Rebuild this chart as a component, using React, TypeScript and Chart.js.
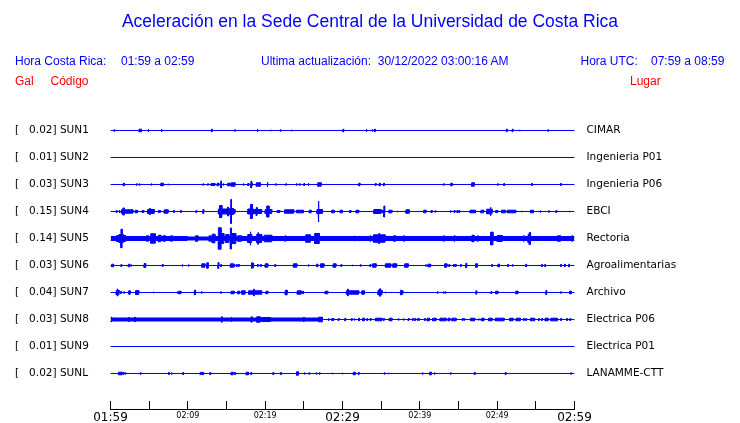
import React, { useEffect, useRef } from 'react';
import { Chart, registerables } from 'chart.js';

Chart.register(...registerables);

// ---------- data ----------
const STATION_CODES = ['SUN1', 'SUN2', 'SUN3', 'SUN4', 'SUN5', 'SUN6', 'SUN7', 'SUN8', 'SUN9', 'SUNL'];
const PEAK_GAL = [0.02, 0.01, 0.03, 0.15, 0.14, 0.03, 0.04, 0.03, 0.01, 0.02];
const PLACES = ['CIMAR', 'Ingenieria P01', 'Ingenieria P06', 'EBCI', 'Rectoria', 'Agroalimentarias', 'Archivo', 'Electrica P06', 'Electrica P01', 'LANAMME-CTT'];
const TIME_LABELS = ['01:59', '02:09', '02:19', '02:29', '02:39', '02:49', '02:59'];
const MAJOR_MINUTES = [0, 30, 60];
const WINDOW_MINUTES = 60;

// bursts: [start minute, end minute, half amplitude (trace units, 27 = row spacing)]
const SUN1 = [[0.5,0.5,0.7],[3.7,4.0,1.3],[4.9,4.9,1.3],[6.6,6.6,1.5],[13.1,13.1,1.3],[16.1,16.1,0.7],[19.0,19.0,1.3],[20.7,20.7,0.7],[22.0,22.0,0.7],[23.4,23.4,0.7],[30.1,30.1,1.3],[33.1,33.1,1.3],[33.9,33.9,0.7],[34.2,34.2,1.3],[51.25,51.25,1.3],[52.0,52.0,1.3],[52.9,52.9,0.7],[56.6,56.6,0.7]];
const SUN2: number[][] = [];
const SUN3 = [[1.65,1.8,1.3],[3.4,3.4,0.7],[3.75,3.75,1.0],[5.3,5.3,1.0],[6.5,6.85,1.3],[7.5,7.5,0.7],[12.0,12.0,0.7],[12.6,12.6,0.7],[13.0,13.5,1.0],[13.8,14.0,1.3],[14.3,14.3,3.5],[14.6,14.6,1.0],[15.15,15.45,1.3],[15.6,16.1,1.7],[17.2,17.2,1.0],[17.75,17.9,1.0],[18.2,18.2,3.3],[18.35,18.35,1.3],[18.85,19.4,1.7],[20.3,20.3,2.3],[21.4,21.4,0.7],[22.7,22.7,0.7],[24.1,24.1,0.7],[24.5,24.5,0.7],[25.0,25.1,1.0],[25.6,25.7,1.3],[26.8,27.25,1.7],[32.1,32.25,1.3],[34.3,34.3,1.0],[34.75,34.9,1.3],[35.3,35.4,1.3],[43.1,43.1,0.7],[44.0,44.2,1.3],[46.7,47.05,1.7],[50.1,50.1,0.7],[50.9,50.9,1.0],[54.5,54.5,1.0],[58.25,58.25,1.0]];
const SUN4 = [[0.8,0.8,1.0],[1.15,1.15,1.3],[1.4,1.6,1.7],[1.6,1.8,3.5],[1.8,2.9,1.7],[3.25,3.25,1.3],[3.45,3.45,1.3],[4.1,4.3,1.0],[4.8,5.65,2.0],[5.1,5.1,3.0],[6.2,6.45,1.0],[6.95,7.45,1.7],[8.2,8.2,1.0],[9.1,9.1,1.0],[11.1,11.1,1.0],[12.0,12.0,2.0],[13.95,15.2,2.5],[14.1,14.4,6.0],[15.15,15.3,4.5],[15.4,15.9,3.0],[15.6,15.6,12.0],[15.9,16.1,2.0],[17.75,18.5,2.5],[18.1,18.35,7.0],[18.5,19.55,2.0],[18.9,18.9,4.0],[20.0,20.85,2.0],[20.2,20.5,5.5],[21.55,21.9,1.0],[22.5,23.7,1.7],[24.05,24.95,1.3],[25.7,25.95,1.3],[26.7,27.4,2.0],[26.9,26.9,10.5],[28.6,28.95,1.3],[29.7,30.0,1.3],[30.9,31.1,1.0],[31.75,32.1,1.3],[34.05,34.95,2.0],[34.95,35.2,1.3],[35.4,35.4,5.5],[36.0,36.4,1.3],[37.1,37.1,0.7],[38.2,38.65,1.7],[40.5,40.8,1.3],[41.45,41.6,1.0],[42.0,42.0,0.7],[44.0,44.0,0.7],[44.5,44.5,1.0],[44.85,44.85,1.0],[45.1,45.1,1.0],[46.5,47.2,1.3],[47.9,48.25,1.3],[48.65,49.35,2.3],[49.15,49.15,4.2],[49.8,50.1,1.0],[50.55,51.05,1.3],[51.3,52.4,1.3],[53.15,53.15,0.7],[54.3,54.7,1.3],[55.6,55.6,1.0],[56.7,56.7,0.7],[57.65,57.65,1.0],[59.35,59.35,0.7]];
const SUN5 = [[0,9.9,2.0],[9.9,12.9,1.5],[12.9,60,2.0],[0.8,1.0,3.0],[1.1,1.65,4.0],[1.35,1.5,9.3],[1.65,1.95,3.0],[4.65,4.9,2.7],[5.2,5.8,4.7],[6.2,6.5,3.3],[6.8,7.1,2.7],[7.8,8.0,2.7],[11.0,11.3,2.7],[12.75,13.0,2.7],[13.15,13.5,4.3],[13.95,14.3,10.7],[14.3,14.65,5.0],[14.9,15.3,4.0],[15.5,15.65,10.5],[15.65,16.2,5.0],[16.45,16.95,2.7],[17.75,18.25,4.0],[18.1,18.1,6.7],[18.9,19.55,4.0],[19.1,19.1,5.7],[19.9,20.85,3.3],[22.6,22.6,2.7],[25.25,25.85,3.7],[26.4,27.0,5.0],[31.55,31.55,2.7],[33.6,33.6,2.7],[34.0,35.5,3.7],[34.75,34.75,5.0],[36.6,36.85,2.7],[37.95,37.95,2.7],[43.1,43.1,2.7],[44.5,44.5,2.7],[46.75,47.0,3.3],[47.5,47.5,2.7],[49.15,49.45,6.3],[50.0,50.65,3.0],[53.45,53.45,2.7],[54.0,54.35,4.0],[54.2,54.2,6.0],[57.8,58.2,2.7],[59.7,59.7,2.7]];
const SUN6 = [[0.15,0.4,1.3],[1.4,1.4,1.0],[2.3,2.45,1.3],[2.65,2.65,0.7],[4.35,4.55,2.0],[6.75,6.75,1.0],[9.3,9.3,1.0],[10.1,10.1,1.0],[11.8,12.2,1.7],[12.45,12.65,2.7],[13.95,13.95,3.0],[14.3,14.3,1.0],[15.5,15.85,1.7],[16.0,16.0,1.3],[16.35,16.35,1.0],[16.6,16.6,1.0],[18.2,18.5,2.3],[18.3,18.3,2.7],[19.05,19.05,1.0],[19.45,19.45,1.0],[20.0,20.35,1.7],[21.3,21.3,1.0],[23.65,24.1,1.7],[25.6,25.6,1.0],[26.65,26.8,1.3],[27.15,27.6,1.7],[28.8,29.15,1.7],[29.85,29.85,1.0],[31.3,31.3,0.7],[32.35,32.35,0.7],[33.6,33.6,1.0],[33.9,34.35,1.7],[35.55,36.25,1.7],[36.5,37.0,1.7],[38.05,38.5,1.7],[40.8,40.8,0.7],[41.05,41.4,1.3],[43.2,43.5,1.7],[43.8,43.8,1.0],[44.4,44.4,1.0],[44.65,44.65,1.0],[45.3,45.3,1.0],[46.0,46.0,2.3],[47.2,47.45,1.7],[49.35,49.35,1.0],[50.1,50.3,1.3],[51.4,51.4,1.0],[52.0,52.0,0.7],[53.75,53.75,1.3],[55.8,55.8,1.0],[56.2,56.2,1.0],[58.25,58.25,1.0],[58.75,58.75,1.3],[59.3,59.3,1.3]];
const SUN7 = [[0.75,1.1,2.3],[0.9,0.9,3.7],[1.35,1.35,1.0],[1.75,1.75,0.7],[2.35,2.55,1.7],[3.25,3.65,2.0],[5.55,5.55,0.7],[8.7,8.7,0.7],[8.85,9.1,1.3],[10.85,11.0,2.3],[11.8,11.8,0.7],[14.3,14.3,0.7],[15.6,16.0,1.3],[16.45,16.7,1.3],[16.95,17.4,1.7],[17.85,19.55,1.7],[18.55,18.55,3.3],[20.1,20.35,1.3],[22.6,22.85,2.3],[24.15,24.65,1.7],[24.9,24.9,1.3],[27.75,28.1,1.3],[30.5,32.1,1.7],[30.7,30.7,3.3],[32.5,32.85,1.7],[34.6,35.1,2.3],[34.85,34.85,3.7],[35.55,35.55,0.7],[37.45,37.8,1.7],[37.6,37.6,2.3],[42.3,42.3,0.7],[43.05,43.05,1.0],[43.3,43.3,0.7],[47.3,47.3,1.7],[49.25,49.25,1.0],[49.8,50.1,1.3],[52.4,52.7,1.3],[56.35,56.35,2.0],[58.25,58.25,0.7],[59.35,59.6,1.3]];
const SUN8 = [[0,27.2,1.5],[0.1,0.1,2.3],[2.4,2.4,2.0],[3.15,3.15,2.3],[14.4,14.4,2.7],[15.65,15.65,2.3],[18.25,18.25,2.7],[18.9,19.35,2.7],[19.55,20.7,2.0],[25.0,25.0,2.0],[26.9,27.4,2.3],[28.2,28.2,1.3],[28.65,28.65,1.0],[28.85,28.85,1.3],[29.5,29.5,1.0],[30.35,30.35,1.3],[31.2,31.2,1.0],[31.55,31.55,1.0],[32.15,32.15,1.3],[32.6,32.85,1.3],[33.2,33.2,1.0],[33.65,33.65,1.0],[34.25,35.1,1.3],[35.35,35.35,1.0],[36.05,36.4,1.3],[37.25,37.25,1.0],[37.9,37.9,1.0],[38.55,38.55,1.0],[39.1,39.1,1.0],[39.4,39.4,1.0],[39.75,39.75,1.0],[39.95,39.95,1.0],[40.65,40.65,1.0],[40.95,41.25,1.3],[41.65,42.1,1.3],[42.6,43.4,1.3],[43.65,43.9,1.3],[44.15,44.7,1.3],[45.55,45.55,1.0],[45.8,45.8,0.7],[46.55,47.1,1.3],[47.6,47.6,1.0],[47.95,48.3,1.3],[48.9,49.35,1.3],[49.75,50.9,1.3],[51.6,52.05,1.3],[52.45,53.0,1.3],[53.45,53.45,1.0],[53.75,53.75,1.0],[54.3,54.85,1.3],[55.4,55.4,1.0],[55.8,55.8,1.0],[56.2,56.6,1.3],[56.95,57.8,1.3],[58.25,58.25,1.0],[59.05,59.05,1.0],[59.45,59.45,1.0]];
const SUN9: number[][] = [];
const SUNL = [[1.05,1.5,1.3],[1.7,1.7,1.0],[1.95,1.95,1.0],[3.9,3.9,0.7],[7.55,7.55,1.0],[7.9,7.9,1.0],[9.4,9.4,1.0],[11.6,11.8,1.0],[11.95,11.95,1.3],[12.9,12.9,1.0],[15.6,15.85,1.3],[16.1,16.1,1.0],[17.55,17.85,1.3],[18.2,18.2,1.0],[21.05,21.05,1.0],[22.05,22.05,1.0],[24.05,24.3,1.7],[25.1,25.1,1.0],[25.7,25.7,0.7],[26.65,26.65,1.0],[27.05,27.05,0.7],[28.7,28.7,0.7],[30.0,30.0,0.7],[31.4,31.65,1.3],[32.1,32.1,1.0],[35.45,35.45,0.7],[35.95,35.95,0.7],[40.35,40.35,1.0],[41.25,41.5,1.3],[41.9,41.9,1.0],[44.0,44.0,0.7],[47.1,47.1,1.0],[51.1,51.1,1.0],[59.55,59.55,0.7]];

const TRACES = [SUN1, SUN2, SUN3, SUN4, SUN5, SUN6, SUN7, SUN8, SUN9, SUNL];

// ---------- presentation ----------
const BLUE = '#0000ff';
const RED = '#ff0000';
const ROW_UNITS = 27;
const SPIKE_WIDTH = 0.1;

function envelope(events: number[][]): number[][] {
  const ev = events.map(([s, e, a]) =>
    e - s < SPIKE_WIDTH ? [Math.max(0, s - SPIKE_WIDTH / 2), Math.min(WINDOW_MINUTES, s + SPIKE_WIDTH / 2), a] : [s, e, a]
  );
  const bounds = Array.from(new Set([0, WINDOW_MINUTES, ...ev.flatMap(([s, e]) => [s, e])]))
    .filter((v) => v >= 0 && v <= WINDOW_MINUTES)
    .sort((p, q) => p - q);
  const pts: number[][] = [];
  for (let i = 0; i < bounds.length - 1; i++) {
    const l = bounds[i];
    const r = bounds[i + 1];
    let a = 0;
    for (const [s, e, amp] of ev) if (s <= l + 1e-9 && e >= r - 1e-9) a = Math.max(a, amp);
    pts.push([l, a], [r, a]);
  }
  return pts;
}

function leftLabel(i: number) {
  return '[' + PEAK_GAL[i].toFixed(2).padStart(7) + '] ' + STATION_CODES[i];
}

const txtBase: React.CSSProperties = {
  position: 'absolute',
  fontFamily: '"Liberation Sans", Arial, sans-serif',
  whiteSpace: 'pre',
};

function Txt(props: { x: number; y: number; size: number; color: string; text: string; w?: number }) {
  return (
    <div
      style={{
        ...txtBase,
        left: props.x,
        top: props.y,
        fontSize: props.size,
        lineHeight: props.size + 'px',
        color: props.color,
        width: props.w,
        textAlign: props.w ? 'center' : 'left',
      }}
    >
      {props.text}
    </div>
  );
}

const noPad = (s: any) => {
  s.paddingTop = 0;
  s.paddingBottom = 0;
  s.paddingLeft = 0;
  s.paddingRight = 0;
};

export default function App() {
  const ref = useRef<HTMLCanvasElement | null>(null);

  useEffect(() => {
    if (!ref.current) return;
    const datasets: any[] = [];
    TRACES.forEach((events, i) => {
      const env = envelope(events);
      const amp = (a: number) => a / ROW_UNITS;
      datasets.push({
        data: env.map(([x, a]) => ({ x, y: i - amp(a) })),
        borderColor: BLUE,
        borderWidth: 1,
        pointRadius: 0,
        tension: 0,
        fill: false,
      });
      datasets.push({
        data: env.map(([x, a]) => ({ x, y: i + amp(a) })),
        borderColor: BLUE,
        backgroundColor: BLUE,
        borderWidth: 1,
        pointRadius: 0,
        tension: 0,
        fill: '-1',
      });
    });

    const chart = new Chart(ref.current, {
      type: 'line',
      data: { datasets },
      options: {
        animation: false,
        responsive: false,
        events: [],
        layout: { padding: { left: 15, top: 103, right: 0, bottom: 0 } },
        plugins: { legend: { display: false }, tooltip: { enabled: false }, title: { display: false } },
        scales: {
          x: {
            type: 'linear',
            position: 'bottom',
            min: 0,
            max: WINDOW_MINUTES,
            ticks: {
              stepSize: 5,
              autoSkip: false,
              maxRotation: 0,
              padding: 10,
              color: '#000',
              callback: (v: any) => (Number(v) % 10 === 0 ? TIME_LABELS[Number(v) / 10] : ''),
              font: (ctx: any) => ({
                family: '"DejaVu Sans"',
                size: ctx.tick && MAJOR_MINUTES.includes(ctx.tick.value) ? 12 : 8,
              }),
            },
            grid: { display: true, drawOnChartArea: false, drawTicks: true, tickLength: -8, color: '#000', lineWidth: 1 },
            border: { display: true, color: '#000', width: 1 },
            afterFit: (s: any) => {
              s.height = 14;
              noPad(s);
            },
          },
          y: {
            type: 'linear',
            position: 'left',
            reverse: true,
            min: -1.0185,
            max: 10.3148,
            afterBuildTicks: (s: any) => {
              s.ticks = STATION_CODES.map((_, i) => ({ value: i }));
            },
            ticks: {
              autoSkip: false,
              crossAlign: 'far',
              padding: 0,
              color: '#000',
              font: { family: '"DejaVu Sans"', size: 10.5 },
              callback: (v: any) => leftLabel(Math.round(Number(v))),
            },
            grid: { display: false, drawTicks: false },
            border: { display: false },
            afterFit: (s: any) => {
              s.width = 95.5;
              noPad(s);
            },
          },
          y2: {
            type: 'linear',
            position: 'right',
            reverse: true,
            min: -1.0185,
            max: 10.3148,
            afterBuildTicks: (s: any) => {
              s.ticks = PLACES.map((_, i) => ({ value: i }));
            },
            ticks: {
              autoSkip: false,
              crossAlign: 'near',
              padding: 12,
              color: '#000',
              font: { family: '"DejaVu Sans"', size: 10.5 },
              callback: (v: any) => PLACES[Math.round(Number(v))],
            },
            grid: { display: false, drawTicks: false },
            border: { display: false },
            afterFit: (s: any) => {
              s.width = 165.5;
              noPad(s);
            },
          },
        },
      } as any,
    });
    return () => chart.destroy();
  }, []);

  return (
    <div style={{ position: 'absolute', left: 0, top: 0, width: 740, height: 423, background: '#fff', overflow: 'hidden' }}>
      <canvas ref={ref} width={740} height={423} style={{ position: 'absolute', left: 0, top: 0, display: 'block' }} />
      <Txt x={0} y={13} w={740} size={17.5} color={BLUE} text="Aceleración en la Sede Central de la Universidad de Costa Rica" />
      <Txt x={15} y={55} size={12} color={BLUE} text="Hora Costa Rica:" />
      <Txt x={121} y={55} size={12} color={BLUE} text="01:59 a 02:59" />
      <Txt x={261} y={55} size={12} color={BLUE} text="Ultima actualización:  30/12/2022 03:00:16 AM" />
      <Txt x={580.5} y={55} size={12} color={BLUE} text="Hora UTC:" />
      <Txt x={651} y={55} size={12} color={BLUE} text="07:59 a 08:59" />
      <Txt x={15} y={75} size={12} color={RED} text="Gal" />
      <Txt x={50.5} y={75} size={12} color={RED} text="Código" />
      <Txt x={630} y={75} size={12} color={RED} text="Lugar" />
    </div>
  );
}
